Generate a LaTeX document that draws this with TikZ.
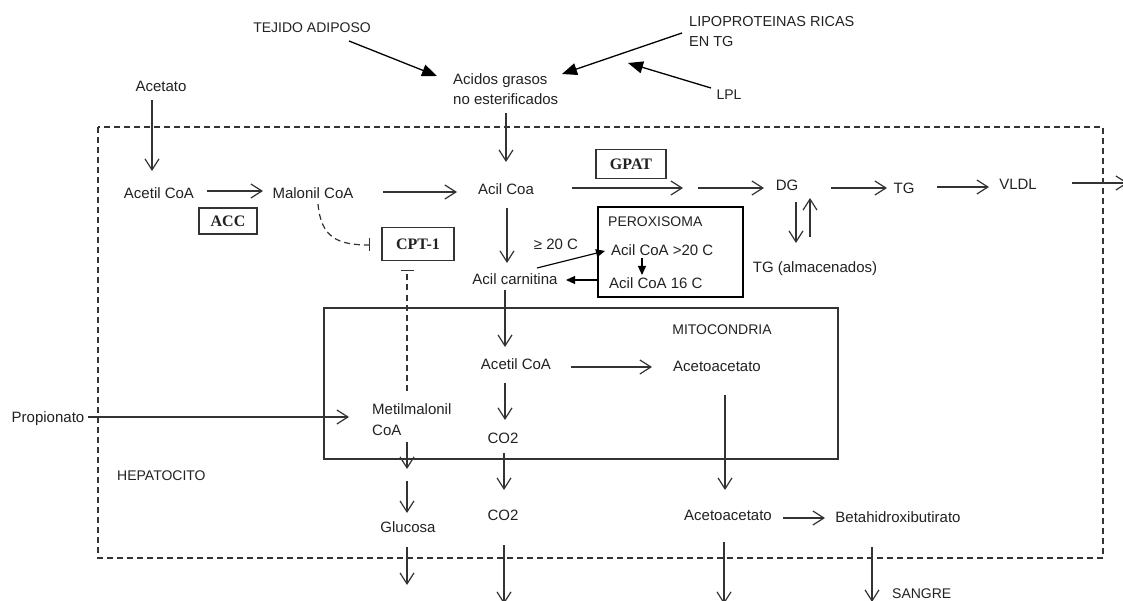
\documentclass[tikz,border=0pt]{standalone}
\usepackage{fontspec}
\setmainfont{Liberation Sans}
\newfontfamily\seriffont{Liberation Serif}
\usetikzlibrary{arrows.meta,calc}
\definecolor{ink}{HTML}{222222}
\definecolor{linec}{HTML}{333333}
\tikzset{
  lbl/.style={font=\fontsize{15}{18}\selectfont, inner sep=0pt, text height=10.8pt, text depth=0pt, text=ink},
  caplbl/.style={font=\fontsize{14}{17}\selectfont, inner sep=0pt, text height=10pt, text depth=0pt, text=ink},
  twolbl/.style={font=\fontsize{15}{20}\selectfont, inner sep=0pt, align=left, text=ink},
  enz/.style={draw=linec, line width=1.3pt, font=\seriffont\bfseries\fontsize{16}{18}\selectfont, inner sep=0pt, text=ink},
  arr/.style={draw=linec, line width=1.2pt, -{Straight Barb[length=11pt,width=14pt,line width=1.2pt]}},
  farr/.style={draw=black, line width=1.3pt, -{Triangle[length=15pt,width=12pt]}},
  sfarr/.style={draw=black, line width=1.2pt, -{Triangle[length=9pt,width=8pt]}},
  inh/.style={draw=linec, line width=1.2pt, dash pattern=on 6pt off 4pt, -{Bar[width=13pt,line width=1.5pt]}},
  cellwall/.style={draw=linec, line width=1.2pt, dash pattern=on 6pt off 4pt},
  organelle/.style={draw=linec, line width=1.4pt}
}
\begin{document}
\begin{tikzpicture}[x=1pt,y=-1pt]
\useasboundingbox (0,0) rectangle (1123,601);
\clip (0,0) rectangle (1123,601);
\fill[white] (0,0) rectangle (1123,601);

% compartments
\draw[cellwall] (98,127) rectangle (1103,558);
\draw[organelle] (324,308) rectangle (838,459);
\draw[draw=black, line width=1.3pt] (598,207) rectangle (743,297);

% nodes
\node[caplbl] (tejido) at (312,28) {TEJIDO ADIPOSO};
\node[twolbl, anchor=west, font=\fontsize{14.5}{20}\selectfont] (lipo) at (689,32) {LIPOPROTEINAS RICAS\\EN TG};
\node[caplbl] (lpl) at (729,95) {LPL};
\node[twolbl, anchor=west] (acidos) at (453,89) {Acidos grasos\\no esterificados};
\node[lbl] (acetato) at (161,86) {Acetato};
\node[lbl] (acetilA) at (159,193) {Acetil CoA};
\node[lbl] (malonil) at (313,193) {Malonil CoA};
\node[lbl] (acilcoa) at (506,189) {Acil Coa};
\node[lbl] (dg) at (787,185) {DG};
\node[lbl] (tg) at (904,188) {TG};
\node[lbl] (vldl) at (1018,184) {VLDL};
\node[enz, minimum width=70pt, minimum height=29pt] (gpat) at (631,164) {GPAT};
\node[enz, minimum width=58pt, minimum height=26pt] (acc) at (228,221) {ACC};
\node[enz, minimum width=72pt, minimum height=33pt] (cpt) at (418,244) {CPT-1};
\node[lbl] (tgalm) at (815,267) {TG (almacenados)};
\node[lbl] (ge20) at (556,244) {≥ 20 C};
\node[lbl] (acilcarn) at (515,279) {Acil carnitina};
\node[caplbl, anchor=west] (peroxT) at (608,222) {PEROXISOMA};
\node[lbl, anchor=west] (acil20) at (611,250) {Acil CoA >20 C};
\node[lbl, anchor=west] (acil16) at (609,283) {Acil CoA 16 C};
\node[caplbl] (mitoT) at (722,329) {MITOCONDRIA};
\node[lbl] (acetilB) at (516,364) {Acetil CoA};
\node[lbl] (acetoA) at (717,366) {Acetoacetato};
\node[twolbl, anchor=west, font=\fontsize{15}{21}\selectfont] (metil) at (372,419.5) {Metilmalonil\\CoA};
\node[lbl] (propionato) at (48,417) {Propionato};
\node[lbl] (co2a) at (503,438) {CO2};
\node[lbl] (co2b) at (503,515) {CO2};
\node[lbl] (glucosa) at (408,527) {Glucosa};
\node[caplbl, anchor=west] (hepato) at (117,475) {HEPATOCITO};
\node[lbl] (acetoB) at (728,515) {Acetoacetato};
\node[lbl] (beta) at (898,517) {Betahidroxibutirato};
\node[caplbl, anchor=west] (sangre) at (892,593) {SANGRE};

% free ends
\coordinate (lplend) at (628,63);
\coordinate (vldlout) at (1128,183);
\coordinate (co2out) at (504,604);
\coordinate (metilmid) at (407,469);
\coordinate (glucin) at (407,481);
\coordinate (glucout) at (407,585);
\coordinate (acetoout) at (724,604);
\coordinate (betaout) at (872,602);

% top inputs
\draw[farr] ($(tejido)+(37,13)$) -- ($(acidos.west)+(-16,-13)$);
\draw[farr] ($(lipo.west)+(-7,1)$) -- ($(acidos.west)+(109,-15)$);
\draw[farr] ($(lpl)+(-18,-7)$) -- (lplend);
\draw[arr] ($(acetato)+(-9,14)$) -- ($(acetilA)+(-7,-22)$);
\draw[arr] ($(acidos.west)+(53,24)$) -- ($(acilcoa)+(0,-27)$);

% main row
\draw[arr] ($(acetilA)+(48,-2)$) -- ($(malonil)+(-50,-2)$);
\draw[arr] ($(malonil)+(70,-1)$) -- ($(acilcoa)+(-49,3)$);
\draw[arr] ($(acilcoa)+(66,-1)$) -- ($(gpat)+(52,24)$);
\draw[arr] ($(gpat)+(67,24)$) -- ($(dg)+(-23,3)$);
\draw[arr] ($(dg)+(44,3)$) -- ($(tg)+(-17,0)$);
\draw[arr] ($(tg)+(33,-1)$) -- ($(vldl)+(-29,3)$);
\draw[arr] ($(vldl)+(54,-1)$) -- (vldlout);
\draw[arr] ($(dg)+(9,17)$) -- ($(tgalm)+(-19,-24)$);
\draw[arr] ($(tgalm)+(-5,-30)$) -- ($(dg)+(23,13)$);

% inhibitions
\draw[inh] ($(malonil)+(5,11)$) .. controls ($(malonil)+(8,45)$) and ($(malonil)+(25,52)$) .. ($(cpt.west)+(-11,1)$);
\draw[inh] ($(metil.west)+(35,-29)$) -- ($(cpt)+(-11,26)$);

% beta oxidation
\draw[arr] ($(acilcoa)+(1,19)$) -- ($(acilcarn)+(-8,-16)$);
\draw[sfarr] ($(acilcarn)+(22,-11)$) -- ($(acil20.west)+(-6,1)$);
\draw[sfarr] ($(acil20.west)+(31,8)$) -- ($(acil16.west)+(33,-8)$);
\draw[sfarr] ($(acil16.west)+(-11,-3)$) -- ($(acilcarn)+(51,1)$);
\draw[arr] ($(acilcarn)+(-10,11)$) -- ($(acetilB)+(-11,-17)$);
\draw[arr] ($(acetilB)+(55,3)$) -- ($(acetoA)+(-65,1)$);
\draw[arr] ($(acetilB)+(-11,19)$) -- ($(co2a)+(2,-18)$);
\draw[arr] ($(co2a)+(1,15)$) -- ($(co2b)+(1,-25)$);
\draw[arr] ($(co2b)+(1,30)$) -- (co2out);

% propionate
\draw[arr] ($(propionato.east)+(4,0)$) -- (propionato.east -| {$(metil.west)+(-23,0)$});
\draw[arr] ($(metil.west)+(35,22)$) -- (metilmid);
\draw[arr] (glucin) -- ($(glucosa)+(-1,-14)$);
\draw[arr] ($(glucosa)+(-1,20)$) -- (glucout);

% ketones
\draw[arr] ($(acetoA)+(8,29)$) -- ($(acetoB)+(-3,-25)$);
\draw[arr] ($(acetoB)+(55,3)$) -- ($(beta)+(-73,1)$);
\draw[arr] ($(acetoB)+(-4,27)$) -- (acetoout);
\draw[arr] ($(beta)+(-26,30)$) -- (betaout);
\end{tikzpicture}
\end{document}
